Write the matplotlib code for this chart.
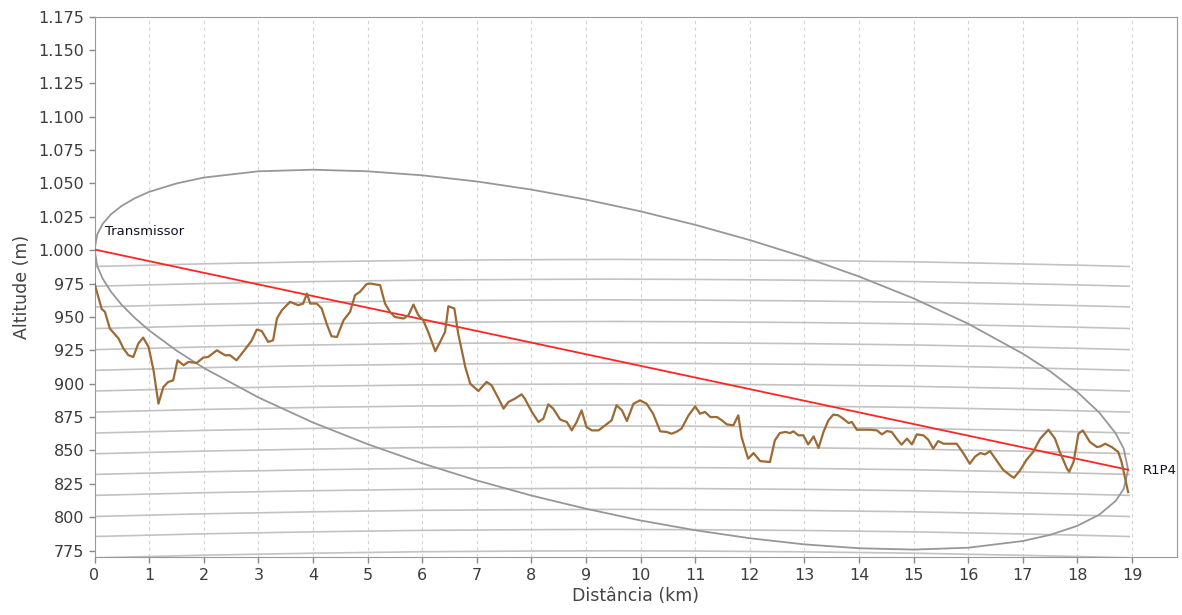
from matplotlib import pyplot as plt
from matplotlib.ticker import FuncFormatter
import numpy as np

# terrain profile along the path (km, m)
dist_km = [0.00, 0.13, 0.19, 0.28, 0.44, 0.53, 0.62, 0.71, 0.80, 0.89, 0.99,
           1.08, 1.17, 1.26, 1.35, 1.44, 1.52, 1.63, 1.72, 1.87, 1.99,
           2.08, 2.24, 2.39, 2.48, 2.60, 2.79, 2.88, 2.97, 3.06, 3.18,
           3.27, 3.34, 3.43, 3.58, 3.73, 3.82, 3.89, 3.95, 4.07, 4.16,
           4.25, 4.34, 4.44, 4.56, 4.68, 4.77, 4.86, 4.98, 5.05, 5.23,
           5.32, 5.41, 5.50, 5.66, 5.75, 5.84, 5.93, 6.02, 6.11, 6.24,
           6.33, 6.42, 6.48, 6.59, 6.66, 6.79, 6.88, 7.03, 7.18, 7.27,
           7.40, 7.49, 7.58, 7.70, 7.82, 7.88, 8.01, 8.13, 8.22, 8.31,
           8.40, 8.53, 8.65, 8.74, 8.83, 8.92, 9.01, 9.11, 9.23, 9.35,
           9.47, 9.56, 9.66, 9.75, 9.87, 9.99, 10.11, 10.23, 10.36, 10.48,
           10.57, 10.66, 10.75, 10.88, 11.00, 11.09, 11.18, 11.28, 11.40, 11.49,
           11.58, 11.70, 11.79, 11.85, 11.97, 12.07, 12.19, 12.37, 12.46, 12.55,
           12.65, 12.74, 12.80, 12.89, 12.98, 13.07, 13.17, 13.26, 13.35, 13.44,
           13.53, 13.62, 13.71, 13.81, 13.87, 13.96, 14.20, 14.33, 14.42, 14.51,
           14.60, 14.69, 14.78, 14.88, 14.97, 15.06, 15.18, 15.27, 15.36, 15.45,
           15.55, 15.79, 15.91, 16.03, 16.13, 16.22, 16.31, 16.40, 16.52, 16.64,
           16.77, 16.84, 16.95, 17.07, 17.19, 17.32, 17.47, 17.59, 17.68, 17.81,
           17.85, 17.93, 18.02, 18.10, 18.23, 18.36, 18.42, 18.51, 18.63, 18.75,
           18.81, 18.87, 18.93]
altitude = [975.0, 956.0, 953.8, 941.3, 933.8, 926.3, 921.3, 920.0, 930.0, 934.5, 927.5,
            910.0, 885.0, 897.5, 901.3, 902.5, 917.5, 913.8, 916.3, 915.5, 919.5,
            920.0, 925.0, 921.3, 921.3, 917.5, 927.5, 932.5, 940.5, 939.5, 931.3,
            932.5, 948.8, 955.0, 961.3, 958.8, 960.0, 967.5, 960.0, 960.0, 956.3,
            945.0, 935.5, 935.0, 947.5, 953.8, 966.3, 968.8, 974.5, 975.0, 973.8,
            960.0, 953.8, 950.0, 948.8, 951.3, 959.3, 951.3, 947.5, 938.8, 924.3,
            931.3, 938.8, 958.0, 956.3, 937.5, 912.5, 900.0, 894.5, 901.3, 898.8,
            888.8, 881.3, 886.3, 888.8, 892.0, 888.8, 878.8, 871.3, 873.8, 884.5,
            881.3, 873.0, 871.3, 865.0, 871.3, 880.0, 867.5, 865.0, 865.0, 868.8,
            872.5, 883.8, 880.0, 872.0, 885.0, 887.5, 885.0, 877.5, 864.3, 863.8,
            862.5, 864.0, 866.3, 876.3, 883.0, 877.5, 878.8, 875.0, 875.0, 872.5,
            869.5, 868.8, 876.3, 860.0, 843.8, 848.0, 842.0, 841.3, 857.5, 863.0,
            863.8, 863.0, 864.3, 861.3, 861.3, 854.5, 860.5, 851.8, 863.8, 872.5,
            876.8, 876.3, 873.8, 870.5, 871.3, 865.5, 865.5, 865.0, 862.0, 864.5,
            863.8, 858.8, 854.3, 858.8, 854.5, 862.0, 861.3, 858.0, 851.3, 857.0,
            855.0, 855.0, 848.0, 840.0, 845.5, 848.0, 847.0, 849.5, 842.5, 835.5,
            831.3, 829.5, 835.0, 843.0, 848.8, 858.8, 865.5, 858.8, 848.8, 836.3,
            834.0, 841.3, 862.5, 865.0, 856.3, 852.5, 853.0, 855.0, 852.5, 848.8,
            841.3, 830.0, 818.8]

# line of sight between the two antennas
los_x = [0.0, 18.93]
los_y = [1000.5, 835.5]

# Fresnel zone outline
fresnel_x = [0.0, 0.05, 0.15, 0.3, 0.5, 0.75, 1.0, 1.5, 2.0, 3.0, 4.0, 5.0, 6.0,
             7.0, 8.0, 9.0, 10.0, 11.0, 12.0, 13.0, 14.0, 15.0, 16.0, 17.0,
             17.5, 18.0, 18.4, 18.7, 18.85, 18.93]
fresnel_top = [1000.5, 1012.0, 1019.8, 1026.9, 1033.3, 1039.2, 1043.7, 1050.0,
               1054.4, 1059.1, 1060.3, 1059.1, 1056.1, 1051.5, 1045.4, 1037.9,
               1029.1, 1019.0, 1007.6, 994.8, 980.3, 963.9, 944.9, 922.5,
               909.3, 893.7, 878.4, 862.9, 851.2, 835.5]
fresnel_bottom = [1000.5, 988.0, 978.6, 968.9, 958.9, 948.8, 939.9, 924.8,
                  911.8, 889.7, 870.9, 854.7, 840.3, 827.5, 816.2, 806.3,
                  797.5, 790.2, 784.2, 779.6, 776.7, 775.7, 777.1, 782.1,
                  786.7, 793.5, 801.8, 812.1, 821.2, 835.5]

# earth curvature reference lines: start level + bulge along the path
curve_base = [987.8, 973.0, 957.5, 941.3, 925.5, 910.0, 894.5, 878.7,
              863.0, 847.5, 832.0, 816.3, 800.5, 785.5, 769.5]
curve_x = [0.0, 1.0, 2.0, 4.0, 6.0, 8.0, 9.5, 11.0, 13.0, 15.0, 17.0, 18.0, 18.95]
curve_bulge = [0.0, 1.0, 2.0, 3.5, 4.6, 5.1, 5.3, 5.1, 4.5, 3.5, 1.9, 1.0, 0.0]

x_ticks = list(range(0, 20))
y_ticks = list(range(775, 1176, 25))


def thousands(v, pos):
    return f"{v:,.0f}".replace(",", ".")


plt.rcParams['font.family'] = ['DejaVu Sans']

fig = plt.figure(figsize=(11.82, 6.15), dpi=100)
ax = fig.add_axes([0.080, 0.094, 0.916, 0.879])

for base in curve_base:
    ax.plot(curve_x, np.array(curve_bulge) + base, color='#c2c2c2', lw=1.2, zorder=1)

ax.plot(fresnel_x + fresnel_x[::-1], fresnel_top + fresnel_bottom[::-1],
        color='#979797', lw=1.3, zorder=2)

ax.plot(los_x, los_y, color='#ff2525', lw=1.3, zorder=3)
ax.plot(dist_km, altitude, color='#9c6a34', lw=1.6, zorder=4)

ax.text(0.19, 1014, "Transmissor", fontsize=9.5, color='#111122', ha='left', va='center')
ax.text(19.2, 835, "R1P4", fontsize=9.5, color='#111122', ha='left', va='center')

ax.set_xlim(0, 19.83)
ax.set_ylim(770, 1175)
ax.set_xticks(x_ticks)
ax.set_yticks(y_ticks)
ax.yaxis.set_major_formatter(FuncFormatter(thousands))

ax.grid(axis='x', color='#d4d4d4', linestyle=(0, (3, 3)), lw=0.8)
ax.set_axisbelow(True)

ax.tick_params(direction='out', length=4, width=1, color='#888888',
               labelcolor='#3c3c3c', labelsize=11.5)
for side in ax.spines.values():
    side.set_color('#999999')

ax.set_xlabel("Distância (km)", fontsize=12.5, color='#444444', labelpad=3)
ax.set_ylabel("Altitude (m)", fontsize=12.5, color='#444444', labelpad=5)

fig.savefig("out.png", dpi=100)
